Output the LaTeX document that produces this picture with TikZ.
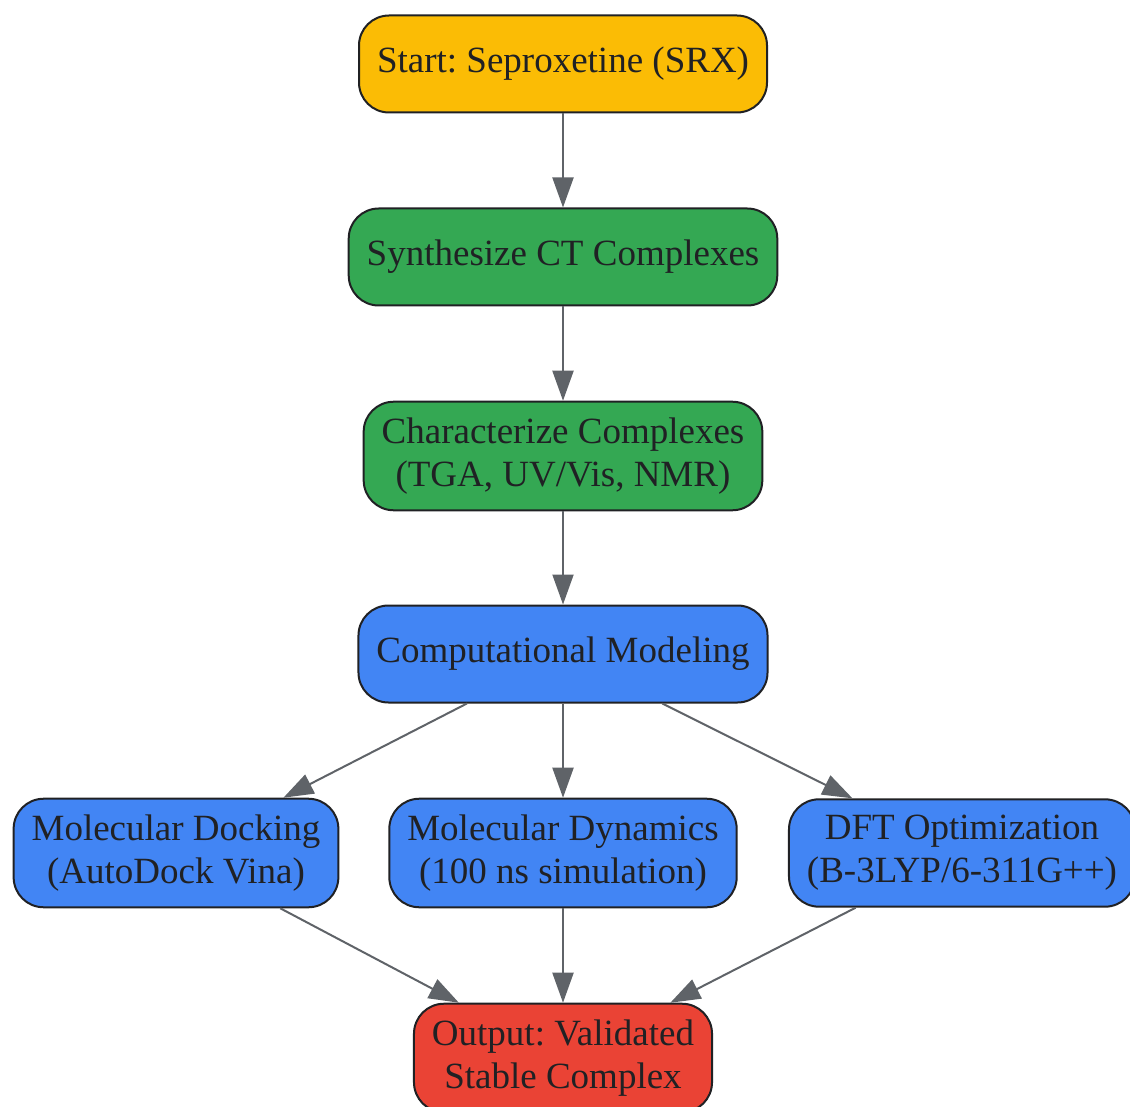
\documentclass[tikz,border=0pt]{standalone}
\usepackage{fontspec}
\setmainfont{Liberation Serif}
\usetikzlibrary{arrows.meta}
\definecolor{gyellow}{HTML}{FBBC05}
\definecolor{ggreen}{HTML}{34A853}
\definecolor{gblue}{HTML}{4285F4}
\definecolor{gred}{HTML}{EA4335}
\definecolor{gdark}{HTML}{202124}
\definecolor{ggray}{HTML}{5F6368}
\frenchspacing
\begin{document}
\begin{tikzpicture}[x=1pt,y=1pt,
		box/.style={draw=gdark,line width=2pt,rounded corners=30pt,text=gdark,align=center,
			font=\fontsize{37}{43}\selectfont,minimum height=97pt,inner xsep=18pt,inner ysep=16pt},
		flow/.style={draw=ggray,line width=2pt,-{Triangle[length=30pt,width=21pt]}}]
		\useasboundingbox (0,0) rectangle (1130,-1107);
		\node[box,fill=gyellow] (start) at (563,-64) {Start: Seproxetine (SRX)};
		\node[box,fill=ggreen] (synth) at (563,-257) {Synthesize CT Complexes};
		\node[box,fill=ggreen] (charac) at (563,-456) {Characterize Complexes\\(TGA, UV/Vis, NMR)};
		\node[box,fill=gblue] (comp) at (563,-654) {Computational Modeling};
		\node[box,fill=gblue] (dock) at (176,-853) {Molecular Docking\\(AutoDock Vina)};
		\node[box,fill=gblue] (dyn) at (563,-853) {Molecular Dynamics\\(100 ns simulation)};
		\node[box,fill=gblue] (dft) at (962,-853) {DFT Optimization\\(B-3LYP/6-311G++)};
		\node[box,fill=gred] (out) at (563,-1058) {Output: Validated\\Stable Complex};
		\foreach \a/\b in {start/synth,synth/charac,charac/comp}
		{
			\draw[flow] (\a) -- (\b);
		}
		\foreach \m in {dock,dyn,dft}
		{
			\draw[flow] (comp) -- (\m);
			\draw[flow] (\m) -- (out);
		}
\end{tikzpicture}
\end{document}
